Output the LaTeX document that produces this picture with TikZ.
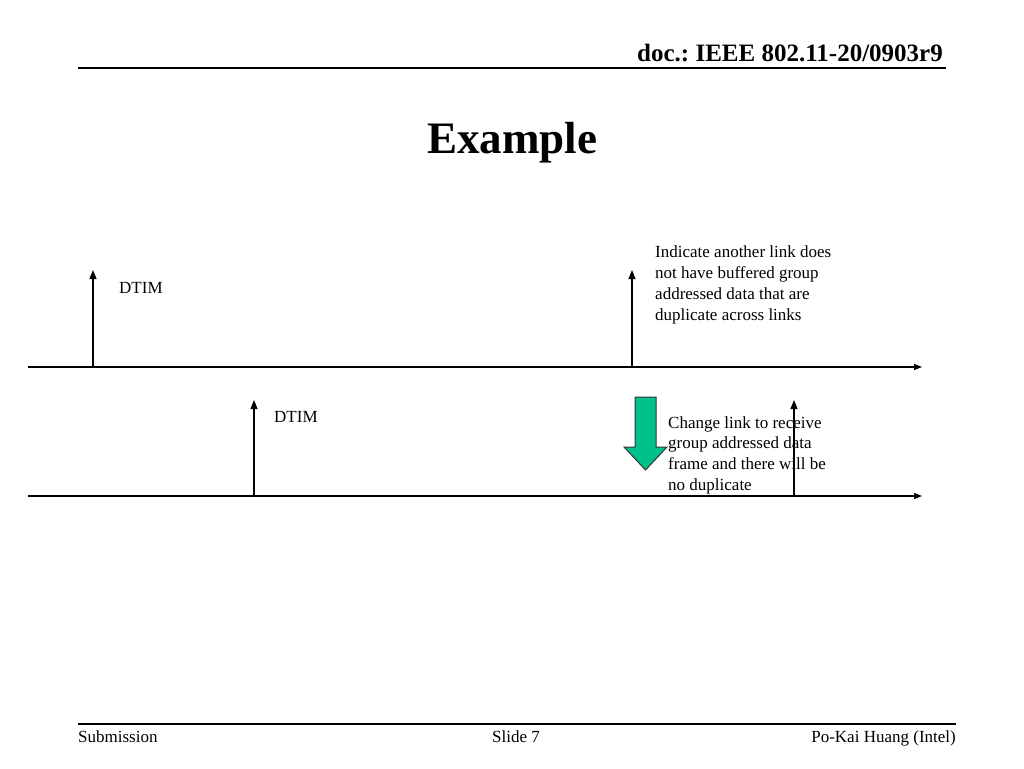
\documentclass[tikz,border=0pt]{standalone}
\usepackage{fontspec}
\setmainfont{Liberation Serif}
\frenchspacing
\usetikzlibrary{arrows.meta}
\begin{document}
\begin{tikzpicture}[x=1pt,y=-1pt,
  rule/.style={line width=1.2pt},
  timeline/.style={line width=1.3pt,-{Triangle[length=8pt,width=6pt]}},
  tick/.style={line width=1.3pt,-{Triangle[length=9pt,width=7pt]}},
  lbl/.style={font=\fontsize{17}{20.7}\selectfont,inner sep=0pt,anchor=west},
  note/.style={font=\fontsize{17}{20.7}\selectfont,inner sep=0pt,anchor=north west,align=left},
  foot/.style={font=\fontsize{17}{20}\selectfont,inner sep=0pt,anchor=base}]
\useasboundingbox[fill=white] (0,0) rectangle (1024,768);
% header
\draw[rule] (78,68) coordinate (hl) -- (946,68) coordinate (hr);
\node[font=\bfseries\fontsize{25}{28}\selectfont,inner sep=0pt,anchor=base east] (doc) at (943,61) {doc.: IEEE 802.11-20/0903r9};
\node[font=\bfseries\fontsize{45}{50}\selectfont,inner sep=0pt,anchor=base] (title) at (512,153) {Example};
% timelines
\coordinate (l1s) at (28,367); \coordinate (l1e) at (922,367);
\coordinate (l2s) at (28,496); \coordinate (l2e) at (922,496);
\draw[timeline] (l1s) -- (l1e);
\draw[timeline] (l2s) -- (l2e);
% ticks
\coordinate (a1) at (93,367); \coordinate (a1t) at (93,270);
\coordinate (a2) at (632,367); \coordinate (a2t) at (632,270);
\coordinate (b1) at (254,496); \coordinate (b1t) at (254,400);
\coordinate (b2) at (794,496); \coordinate (b2t) at (794,400);
\draw[tick] (a1) -- (a1t);
\draw[tick] (a2) -- (a2t);
\draw[tick] (b1) -- (b1t);
\draw[tick] (b2) -- (b2t);
% labels
\node[lbl] (dtim1) at (119,288) {DTIM};
\node[lbl] (dtim2) at (274,417) {DTIM};
\node[note] (n1) at (655,246) {Indicate another link does\\not have buffered group\\addressed data that are\\duplicate across links};
% green arrow
\draw[line width=1pt,draw=black!80,fill={rgb,255:red,0;green,192;blue,140}]
  (635,397) -- (656,397) -- (656,447) -- (667,447) -- (645.5,470) -- (624,447) -- (635,447) -- cycle;
\node[note] (n2) at (668,416) {Change link to receive\\group addressed data\\frame and there will be\\no duplicate};
% footer
\draw[rule] (78,724) coordinate (fl) -- (956,724) coordinate (fr);
\node[foot,anchor=base west] (sub) at (78,742) {Submission};
\node[foot] (slide) at (516,742) {Slide 7};
\node[foot,anchor=base east] (auth) at (956,742) {Po-Kai Huang (Intel)};
\end{tikzpicture}
\end{document}
